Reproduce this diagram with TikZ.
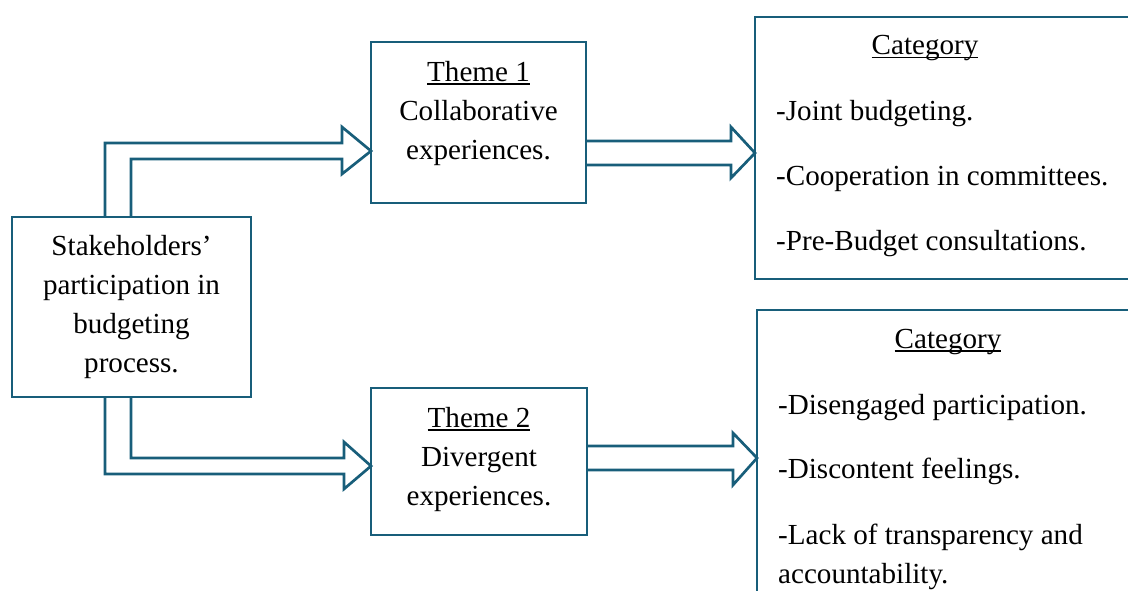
\documentclass[tikz,border=0pt]{standalone}
\usepackage{fontspec}
\setmainfont{Liberation Serif}
\usetikzlibrary{calc}

\definecolor{boxblue}{RGB}{24,94,122}
\newcommand{\undertext}[1]{\setbox0\hbox{#1}\rlap{\rule[-3.5pt]{\wd0}{1.8pt}}\box0}

\tikzset{
  box/.style={draw=boxblue, line width=2.7pt, inner sep=0pt, outer sep=0pt},
  txt/.style={font=\fontsize{29.1}{39}\selectfont, inner sep=0pt},
  blockarrow/.style={draw=boxblue, line width=2.7pt, line join=miter},
}

\begin{document}
\begin{tikzpicture}[x=1pt, y=-1pt]
  \useasboundingbox (0,0) rectangle (1128,591);

  % Boxes
  \node[box, minimum width=239pt, minimum height=180pt] (stake) at (131.5,307) {};
  \node[box, minimum width=215pt, minimum height=161pt] (theme1) at (478.5,122.5) {};
  \node[box, minimum width=216pt, minimum height=147pt] (theme2) at (479,461.5) {};
  \node[box, minimum width=400pt, minimum height=262pt, anchor=north west] (cat1) at (755,17) {};
  \node[box, minimum width=400pt, minimum height=320pt, anchor=north west] (cat2) at (757,310) {};

  % Texts
  \node[txt, align=center] (stakeText) at (stake.center) {Stakeholders’\\participation in\\budgeting\\process.};
  \node[txt, align=center, anchor=north] (theme1Text) at ($(theme1.north)+(0,19)$) {\undertext{Theme 1}\\Collaborative\\experiences.};
  \node[txt, align=center, anchor=north] (theme2Text) at ($(theme2.north)+(0,19)$) {\undertext{Theme 2}\\Divergent\\experiences.};

  \node[txt, anchor=base] (cat1Head) at ($(cat1.north west)+(170,38)$) {\undertext{Category}};
  \node[txt, align=left, anchor=north west] (cat1Items) at ($(cat1.north west)+(21,83)$)
    {-Joint budgeting.\\[26pt]-Cooperation in committees.\\[26pt]-Pre-Budget consultations.};
  \node[txt, anchor=base] (cat2Head) at ($(cat2.north west)+(191,38)$) {\undertext{Category}};
  \node[txt, align=left, anchor=north west] (cat2Items) at ($(cat2.north west)+(21,84)$)
    {-Disengaged participation.\\[25pt]-Discontent feelings.\\[27pt]-Lack of transparency and\\accountability.};

  % Bent arrow up to Theme 1
  \coordinate (u0) at ($(stake.north)+(-26.5,0)$);
  \coordinate (u1) at ($(stake.north)+(-0.5,0)$);
  \coordinate (utip) at ($(theme1.west)+(0,28.5)$);
  \draw[blockarrow] (u0) |- ($(utip)+(-29,-8)$) -- ($(utip)+(-29,-24)$) -- (utip)
    -- ($(utip)+(-29,23)$) -- ($(utip)+(-29,8)$) -| (u1);

  % Bent arrow down to Theme 2
  \coordinate (l0) at ($(stake.south)+(-26.5,0)$);
  \coordinate (l1) at ($(stake.south)+(-0.5,0)$);
  \coordinate (ltip) at ($(theme2.west)+(0,4.5)$);
  \draw[blockarrow] (l1) |- ($(ltip)+(-27,-8)$) -- ($(ltip)+(-27,-24)$) -- (ltip)
    -- ($(ltip)+(-27,23)$) -- ($(ltip)+(-27,8)$) -| (l0);

  % Arrow Theme 1 -> Category
  \coordinate (r1tip) at ($(cat1.north west)+(0,136)$);
  \coordinate (r1s) at (theme1.east |- r1tip);
  \draw[blockarrow] ($(r1s)+(0,-12)$) -- ($(r1tip)+(-24,-12)$) -- ($(r1tip)+(-24,-26)$) -- (r1tip)
    -- ($(r1tip)+(-24,25)$) -- ($(r1tip)+(-24,12)$) -- ($(r1s)+(0,12)$);

  % Arrow Theme 2 -> Category
  \coordinate (r2tip) at ($(cat2.north west)+(0,148)$);
  \coordinate (r2s) at (theme2.east |- r2tip);
  \draw[blockarrow] ($(r2s)+(0,-12)$) -- ($(r2tip)+(-24,-12)$) -- ($(r2tip)+(-24,-25)$) -- (r2tip)
    -- ($(r2tip)+(-24,27)$) -- ($(r2tip)+(-24,12)$) -- ($(r2s)+(0,12)$);
\end{tikzpicture}
\end{document}
